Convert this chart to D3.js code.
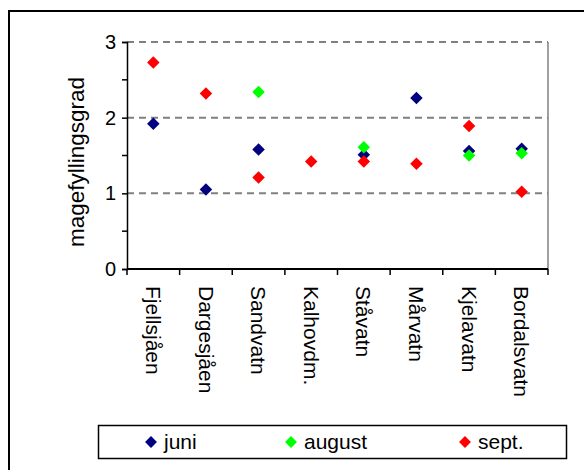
<!DOCTYPE html>
<html>
<head>
<meta charset="utf-8">
<script src="https://cdn.jsdelivr.net/npm/d3@7"></script>
<style>
  body { margin: 0; background: #fff; }
  svg { display: block; font-family: "Liberation Sans", Arial, sans-serif; }
</style>
</head>
<body>
<svg id="chart" width="584" height="470"></svg>
<script>
(function() {
    'use strict';

    // DATA
    var lakes = ['Fjellsjåen', 'Dargesjåen', 'Sandvatn', 'Kalhovdm.', 'Ståvatn', 'Mårvatn', 'Kjelavatn', 'Bordalsvatn'];
    var juni = [1.92, 1.05, 1.58, null, 1.51, 2.26, 1.56, 1.59];
    var august = [null, null, 2.34, null, 1.61, null, 1.50, 1.53];
    var sept = [2.73, 2.32, 1.21, 1.42, 1.42, 1.39, 1.89, 1.02];
    var yTicks = [0, 1, 2, 3];
    var yMinor = [0.5, 1.5, 2.5];

    var series = [
        { name: 'juni', values: juni, color: '#000080' },
        { name: 'august', values: august, color: '#00ff00' },
        { name: 'sept.', values: sept, color: '#ff0000' }
    ];

    var svg = d3.select('#chart');
    var left = 127, right = 548, top = 42, bottom = 269;

    var x = d3.scaleBand().domain(lakes).range([left, right]);
    var y = d3.scaleLinear().domain([0, 3]).range([bottom, top]);

    // OUTER FRAME
    svg.append('path')
        .attr('d', 'M9,470 V11 H590')
        .attr('fill', 'none')
        .attr('stroke', '#000')
        .attr('stroke-width', 2);

    // GRIDLINES
    svg.selectAll('.grid')
        .data([1, 2, 3])
        .enter().append('line')
        .attr('x1', left).attr('x2', right)
        .attr('y1', function(d) { return y(d); })
        .attr('y2', function(d) { return y(d); })
        .attr('stroke', '#808080')
        .attr('stroke-width', 2)
        .attr('stroke-dasharray', '7,5');

    // PLOT RIGHT BORDER
    svg.append('line')
        .attr('x1', right).attr('x2', right)
        .attr('y1', top).attr('y2', bottom)
        .attr('stroke', '#808080')
        .attr('stroke-width', 1.5);

    // Y AXIS
    var yAxis = svg.append('g')
        .attr('transform', 'translate(' + left + ',0)')
        .call(d3.axisLeft(y).tickValues(yTicks).tickFormat(d3.format('d')).tickSize(5).tickPadding(6));
    yAxis.select('.domain').attr('stroke-width', 1.5);
    yAxis.selectAll('.tick line').attr('stroke-width', 1.5);
    yAxis.selectAll('text').attr('font-size', 20).attr('fill', '#000').attr('font-family', '"Liberation Sans", Arial, sans-serif');

    svg.append('g')
        .selectAll('line')
        .data(yMinor)
        .enter().append('line')
        .attr('x1', left - 5).attr('x2', left)
        .attr('y1', function(d) { return y(d); })
        .attr('y2', function(d) { return y(d); })
        .attr('stroke', '#000')
        .attr('stroke-width', 1.5);

    svg.append('text')
        .attr('transform', 'translate(76,162) rotate(-90)')
        .attr('text-anchor', 'middle')
        .attr('dy', '0.35em')
        .attr('font-size', 22.5)
        .text('magefyllingsgrad');

    // X AXIS
    svg.append('line')
        .attr('x1', left).attr('x2', right)
        .attr('y1', bottom).attr('y2', bottom)
        .attr('stroke', '#000')
        .attr('stroke-width', 2);

    var bounds = lakes.map(function(d) { return x(d); }).concat([right]);
    svg.append('g')
        .selectAll('line')
        .data(bounds)
        .enter().append('line')
        .attr('x1', function(d) { return d; })
        .attr('x2', function(d) { return d; })
        .attr('y1', bottom).attr('y2', bottom + 6)
        .attr('stroke', '#000')
        .attr('stroke-width', 1.5);

    svg.append('g')
        .selectAll('text')
        .data(lakes)
        .enter().append('text')
        .attr('transform', function(d) {
            return 'translate(' + (x(d) + x.bandwidth() / 2) + ',' + (bottom + 17) + ') rotate(90)';
        })
        .attr('dy', '0.35em')
        .attr('font-size', 21)
        .text(function(d) { return d; });

    // MARKERS
    var diamond = d3.symbol().type(d3.symbolDiamond2).size(100);
    series.forEach(function(s) {
        svg.append('g')
            .selectAll('path')
            .data(s.values.map(function(v, i) { return { lake: lakes[i], v: v }; })
                .filter(function(d) { return d.v !== null; }))
            .enter().append('path')
            .attr('d', diamond)
            .attr('transform', function(d) {
                return 'translate(' + (x(d.lake) + x.bandwidth() / 2) + ',' + y(d.v) + ')';
            })
            .attr('fill', s.color);
    });

    // LEGEND
    var legend = svg.append('g');
    legend.append('rect')
        .attr('x', 98.5).attr('y', 425.5)
        .attr('width', 468).attr('height', 33)
        .attr('fill', '#fff')
        .attr('stroke', '#000')
        .attr('stroke-width', 1.5);

    var legendX = [151, 291, 465];
    series.forEach(function(s, i) {
        legend.append('path')
            .attr('d', d3.symbol().type(d3.symbolDiamond2).size(90))
            .attr('transform', 'translate(' + legendX[i] + ',442)')
            .attr('fill', s.color);
        legend.append('text')
            .attr('x', legendX[i] + 13)
            .attr('y', 442)
            .attr('dy', '0.35em')
            .attr('font-size', 21)
            .text(s.name);
    });
}());
</script>
</body>
</html>
